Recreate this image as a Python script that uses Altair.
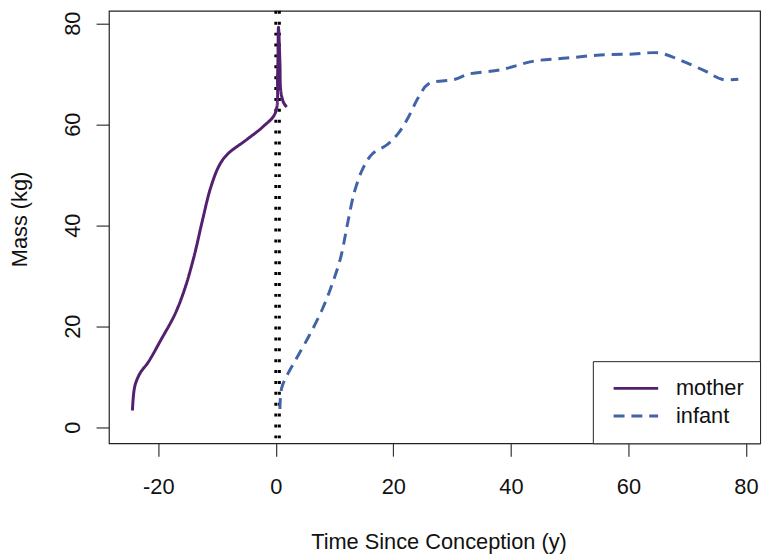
import altair as alt
import pandas as pd

# ---- data ----
mother_t = [-24.4, -24.0, -23.1, -21.7, -19.5, -17.2, -15.5, -13.9, -12.5, -11.1,
            -9.6, -8.2, -4.9, -2.1, -0.1, 0.3, 0.45, 0.7, 0.85, 1.35, 1.85]
mother_m = [3.3, 8.1, 10.7, 12.9, 17.4, 22.3, 27.4, 33.9, 40.9, 47.4,
            51.9, 54.1, 57.0, 59.6, 62.2, 70.0, 79.2, 72.0, 66.5, 64.2, 63.4]

infant_t = [0.7, 1.0, 2.1, 3.5, 5.8, 8.0, 9.7, 11.1, 12.2, 13.4, 14.8, 16.4,
            19.0, 20.9, 22.6, 24.3, 26.0, 30.5, 32.7, 38.3, 43.9, 49.5, 55.2,
            60.8, 65.3, 69.2, 73.1, 75.9, 78.7]
infant_m = [3.6, 7.8, 10.7, 13.6, 18.4, 23.6, 28.7, 33.9, 40.3, 46.7, 51.2, 54.1,
            56.0, 58.3, 61.5, 65.4, 68.0, 68.9, 69.9, 70.8, 72.5, 73.1, 73.7,
            73.9, 74.1, 72.5, 70.5, 68.9, 68.9]

vlines = [0.0, 0.6]

series_names = ["mother", "infant"]
series_colors = ["#52206f", "#4163a8"]

x_ticks = [-20, 0, 20, 40, 60, 80]
y_ticks = [0, 20, 40, 60, 80]

# ---- tables ----
rows = []
for i, (t, m) in enumerate(zip(mother_t, mother_m)):
    rows.append({"series": "mother", "t": t, "m": m, "i": i})
for i, (t, m) in enumerate(zip(infant_t, infant_m)):
    rows.append({"series": "infant", "t": t, "m": m, "i": i})
df = pd.DataFrame(rows)
vdf = pd.DataFrame({"t": vlines})

FONT = "Liberation Sans"

xscale = alt.Scale(domain=[-28.4, 82.4], nice=False, zero=False)
yscale = alt.Scale(domain=[-3.19, 82.45], nice=False, zero=False)

rules = alt.Chart(vdf).mark_rule(
    color="black", strokeWidth=3, strokeDash=[3, 8]
).encode(x=alt.X("t:Q", scale=xscale))

lines = alt.Chart(df).mark_line(strokeWidth=3, interpolate="catmull-rom").encode(
    x=alt.X("t:Q", scale=xscale,
            axis=alt.Axis(values=x_ticks, title="Time Since Conception (y)",
                          labelExpr="datum.value < 0 ? '-' + abs(datum.value) : datum.label",
                          labelPadding=21, titleX=333, titleY=106.7,
                          titleBaseline="alphabetic", titleAnchor="middle",
                          titleAlign="center")),
    y=alt.Y("m:Q", scale=yscale,
            axis=alt.Axis(values=y_ticks, title="Mass (kg)",
                          labelAngle=270, labelAlign="center",
                          labelBaseline="alphabetic", labelPadding=17,
                          titleAngle=270, titleX=-83, titleY=210.3,
                          titleBaseline="alphabetic", titleAlign="center")),
    color=alt.Color("series:N",
                    scale=alt.Scale(domain=series_names, range=series_colors),
                    sort=series_names, title=None),
    strokeDash=alt.StrokeDash("series:N",
                              scale=alt.Scale(domain=series_names,
                                              range=[[1, 0], [11, 7]]),
                              sort=series_names, title=None),
    detail="series:N",
    order="i:Q",
)

chart = alt.layer(rules, lines).properties(
    width=658, height=437,
    autosize=alt.AutoSizeParams(type="none"),
    padding={"left": 102, "top": 0, "right": 7, "bottom": 112},
).configure_view(
    stroke="#222", strokeWidth=1.2
).configure_axis(
    domain=False, grid=False, tickColor="#333", tickSize=13, tickWidth=1.2,
    labelFont=FONT, labelFontSize=22, labelColor="#111",
    titleFont=FONT, titleFontSize=22, titleColor="#111", titleFontWeight="normal",
).configure_legend(
    orient="bottom-right", offset=0, padding=16,
    strokeColor="#222", fillColor="white", cornerRadius=0,
    labelFont=FONT, labelFontSize=22, labelColor="#111", labelOffset=29,
    symbolType="M-2.25,0H2.25", symbolSize=400, symbolStrokeWidth=3,
    symbolOffset=16, rowPadding=5,
)

chart.save("out.html", embed_options={"renderer": "svg", "actions": False})
